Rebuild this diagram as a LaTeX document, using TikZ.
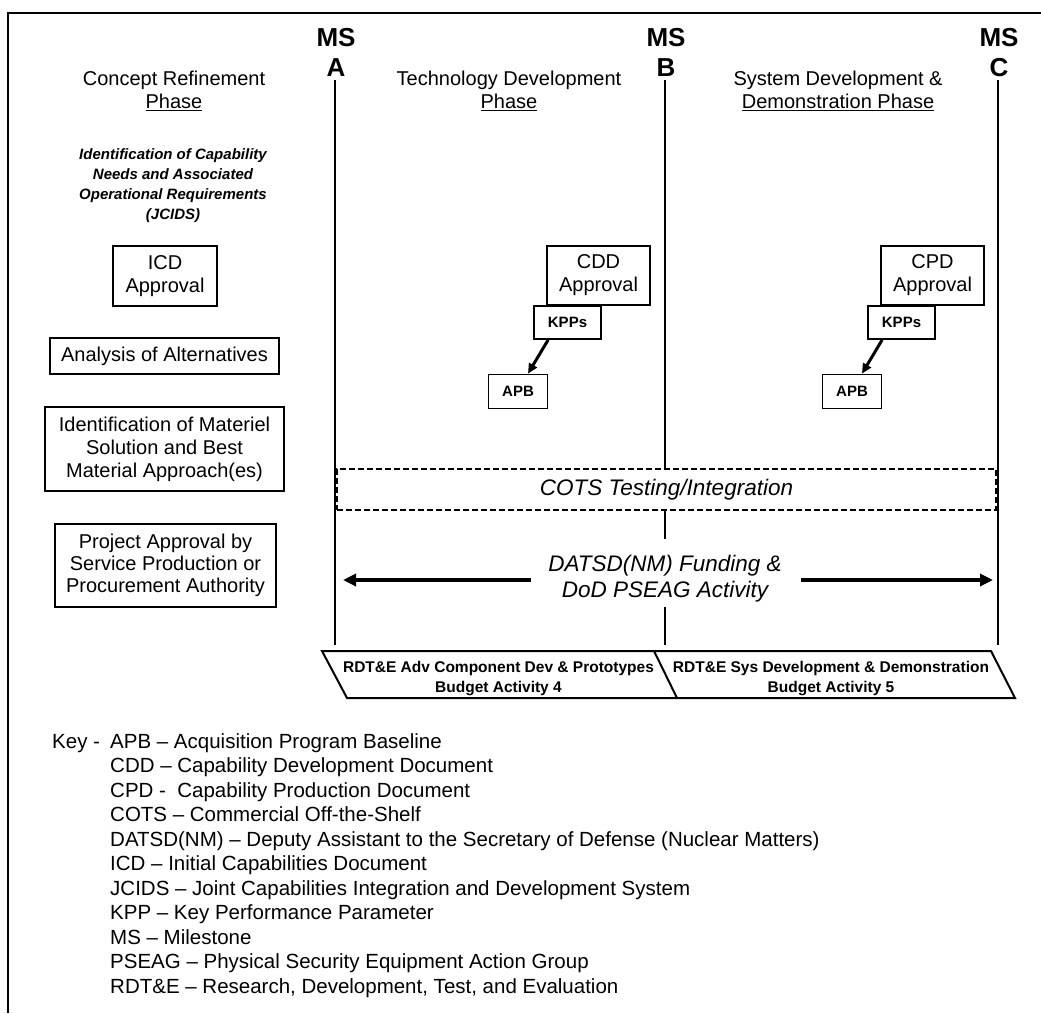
\documentclass[tikz,border=0pt]{standalone}
\usepackage{fontspec}
\setmainfont{Liberation Sans}
\usetikzlibrary{arrows.meta,calc}
\begin{document}
\begin{tikzpicture}[x=1pt,y=-1pt,
  box/.style={draw,line width=1.8pt,inner sep=0pt,align=center,font=\fontsize{20}{23}\selectfont},
  smallbox/.style={draw,line width=1.8pt,inner sep=0pt,align=center,font=\bfseries\fontsize{15}{18}\selectfont},
  title/.style={inner sep=0pt,align=center,anchor=north,font=\fontsize{20}{23}\selectfont},
  reqtext/.style={inner sep=0pt,align=center,anchor=north,font=\bfseries\itshape\fontsize{15}{20}\selectfont},
  mslabel/.style={inner sep=0pt,align=center,anchor=north,font=\bfseries\fontsize{26}{30}\selectfont},
  msline/.style={line width=2pt},
  budget/.style={inner sep=0pt,align=center,anchor=north,font=\bfseries\fontsize{15.5}{20}\selectfont},
  bigtext/.style={inner sep=0pt,align=center,font=\itshape\fontsize{22.5}{26}\selectfont},
  keytext/.style={inner sep=0pt,anchor=base west,font=\fontsize{20.5}{24}\selectfont},
  bigarrow/.style={line width=3.5pt,-{Triangle[length=13pt,width=12pt]}},
  smallarrow/.style={line width=3pt,-{Triangle[length=10pt,width=9pt]}}
]
\useasboundingbox (0,0) rectangle (1041,1013);
% frame (top and left)
\draw[line width=2.5pt] (8,1013) -- (8,13) -- (1041,13);

% milestones
\node[mslabel] (msA) at (336,27.7) {MS\\A};
\node[mslabel] (msB) at (666,27.7) {MS\\B};
\node[mslabel] (msC) at (999,27.7) {MS\\C};
\coordinate (A1) at (335,80); \coordinate (A2) at (335,645);
\coordinate (B1) at (665,80); \coordinate (B3) at (665,539);
\coordinate (B4) at (665,607); \coordinate (B5) at (665,645);
\coordinate (C1) at (998,80); \coordinate (C2) at (998,645);

% phase titles
\node[title] (ph1) at (174,70.6) {Concept Refinement\\\underline{Phase}};
\node[title] (ph2) at (509,70.6) {Technology Development\\\underline{Phase}};
\node[title] (ph3) at (838,70.6) {System Development \&\\\underline{Demonstration Phase}};

\node[reqtext] (jcids) at (173,148.5) {Identification of Capability\\Needs and Associated\\Operational Requirements\\(JCIDS)};

% left column boxes
\node[box,minimum width=104pt,minimum height=60pt] (icd) at (165,276) {ICD\\Approval};
\node[box,minimum width=229pt,minimum height=36pt] (aoa) at (164.5,356) {Analysis of Alternatives};
\node[box,minimum width=239pt,minimum height=84pt] (ims) at (164.5,449) {Identification of Materiel\\Solution and Best\\Material Approach(es)};
\node[box,minimum width=221pt,minimum height=83pt,font=\fontsize{20}{22}\selectfont] (pap) at (165.5,565.5) {Project Approval by\\Service Production or\\Procurement Authority};

% CDD / CPD groups
\node[box,minimum width=103pt,minimum height=59pt] (cdd) at (598.5,275.5) {CDD\\Approval};
\node[smallbox,minimum width=67pt,minimum height=33pt] (kpp1) at (567.5,322.5) {KPPs};
\node[smallbox,minimum width=59pt,minimum height=34pt] (apb1) at (518,391.5) {APB};
\node[box,minimum width=103pt,minimum height=59pt] (cpd) at (932.5,275.5) {CPD\\Approval};
\node[smallbox,minimum width=67pt,minimum height=33pt] (kpp2) at (901.5,322.5) {KPPs};
\node[smallbox,minimum width=59pt,minimum height=34pt] (apb2) at (852,391.5) {APB};
\draw[smallarrow] ($(kpp1.south west)+(15,0)$) -- ($(apb1.north)+(10,0)$);
\draw[smallarrow] ($(kpp2.south west)+(15,0)$) -- ($(apb2.north)+(10,0)$);

% COTS dashed box
\node[draw,line width=2pt,dash pattern=on 6pt off 3pt,inner sep=0pt,minimum width=659pt,minimum height=41pt,font=\itshape\fontsize{22.5}{26}\selectfont] (cots) at (666.5,489.5) {COTS Testing/Integration};

% milestone lines
\draw[msline] (A1) -- (A2);
\draw[msline] (C1) -- (C2);
\draw[msline] (B1) -- (cots.north -| B1);
\draw[msline] (cots.south -| B1) -- (B3);
\draw[msline] (B4) -- (B5);

% funding
\node[bigtext,anchor=north] (fund) at (665,555) {DATSD(NM) Funding \&\\DoD PSEAG Activity};
\coordinate (fL1) at (531,580); \coordinate (fL2) at (343,580);
\coordinate (fR1) at (801,580); \coordinate (fR2) at (993,580);
\draw[bigarrow] (fL1) -- (fL2);
\draw[bigarrow] (fR1) -- (fR2);

% budget band
\coordinate (P1) at (322,651); \coordinate (P2) at (991,651);
\coordinate (P3) at (1015,698); \coordinate (P4) at (347,698);
\coordinate (D1) at (654,651); \coordinate (D2) at (677,698);
\draw[line width=2pt,line join=miter] (P1) -- (P2) -- (P3) -- (P4) -- cycle;
\draw[line width=2pt] (D1) -- (D2);
\node[budget] (bud1) at (498.5,661.4) {RDT\&E Adv Component Dev \& Prototypes\\Budget Activity 4};
\node[budget] (bud2) at (831,661.4) {RDT\&E Sys Development \& Demonstration\\Budget Activity 5};

% key
\node[keytext] (key) at (52,748) {Key -};
\node[keytext] (k1) at (110,748) {APB – Acquisition Program Baseline};
\node[keytext] (k2) at (110,772.5) {CDD – Capability Development Document};
\node[keytext] (k3) at (110,797) {CPD -\ \ Capability Production Document};
\node[keytext] (k4) at (110,821.5) {COTS – Commercial Off-the-Shelf};
\node[keytext] (k5) at (110,846) {DATSD(NM) – Deputy Assistant to the Secretary of Defense (Nuclear Matters)};
\node[keytext] (k6) at (110,870.5) {ICD – Initial Capabilities Document};
\node[keytext] (k7) at (110,895) {JCIDS – Joint Capabilities Integration and Development System};
\node[keytext] (k8) at (110,919.5) {KPP – Key Performance Parameter};
\node[keytext] (k9) at (110,944) {MS – Milestone};
\node[keytext] (k10) at (110,968.5) {PSEAG – Physical Security Equipment Action Group};
\node[keytext] (k11) at (110,993) {RDT\&E – Research, Development, Test, and Evaluation};
\end{tikzpicture}
\end{document}
